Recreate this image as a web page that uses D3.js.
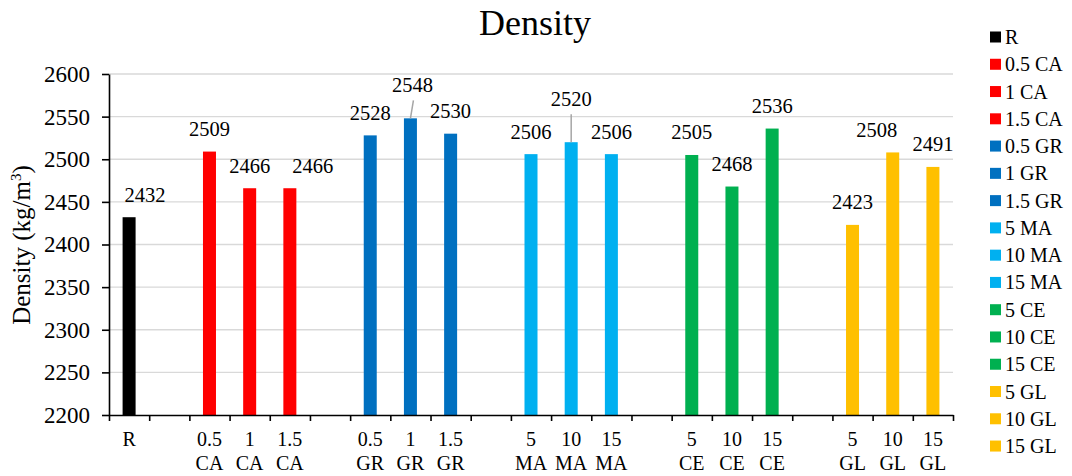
<!DOCTYPE html>
<html>
<head>
<meta charset="utf-8">
<script src="https://cdn.jsdelivr.net/npm/d3@7"></script>
<style>
  html, body { margin: 0; padding: 0; background: #fff; }
  svg text { font-family: "Liberation Serif", "Times New Roman", serif; fill: #000; }
</style>
</head>
<body>
<svg id="chart" width="1072" height="476"></svg>
<script>
// Mix labels, their family and measured densities (kg/m3)
const categories = ["R", "0.5 CA", "1 CA", "1.5 CA", "0.5 GR", "1 GR", "1.5 GR",
  "5 MA", "10 MA", "15 MA", "5 CE", "10 CE", "15 CE", "5 GL", "10 GL", "15 GL"];
const families = ["R", "CA", "CA", "CA", "GR", "GR", "GR",
  "MA", "MA", "MA", "CE", "CE", "CE", "GL", "GL", "GL"];
const densities = [2432, 2509, 2466, 2466, 2528, 2548, 2530,
  2506, 2520, 2506, 2505, 2468, 2536, 2423, 2508, 2491];
const yTicks = [2200, 2250, 2300, 2350, 2400, 2450, 2500, 2550, 2600];
const familyColors = { R: "#000000", CA: "#ff0000", GR: "#0070c0", MA: "#00b0f0", CE: "#00b050", GL: "#ffc000" };

// Hand-placed label nudges (dx, extra lift, leader line)
const labelPlacement = {
  "R": { dx: 16 },
  "1.5 CA": { dx: 23 },
  "1 GR": { dx: 2, lift: 26, leader: true },
  "10 MA": { dx: 0, lift: 36, leader: true },
  "10 GL": { dx: -16 }
};

const svg = d3.select("#chart");
const plotLeft = 109, plotRight = 953, plotTop = 74, plotBottom = 415;

// One slot per mix, with an empty slot between families
const slots = [];
categories.forEach((c, i) => {
  if (i > 0 && families[i] !== families[i - 1]) slots.push("gap" + i);
  slots.push(c);
});

const x = d3.scaleBand().domain(slots).range([plotLeft, plotRight]).paddingInner(0).paddingOuter(0);
const xIdx = d3.scaleLinear().domain([0, slots.length]).range([plotLeft, plotRight]);
const y = d3.scaleLinear().domain([2200, 2600]).range([plotBottom, plotTop]);
const barW = 13;

// Title
svg.append("text").attr("x", 535).attr("y", 35).attr("text-anchor", "middle")
  .style("font-size", "36px").text("Density");

// Gridlines
svg.append("g").selectAll("line").data(yTicks.slice(1)).join("line")
  .attr("x1", plotLeft).attr("x2", plotRight)
  .attr("y1", d => y(d)).attr("y2", d => y(d))
  .attr("stroke", "#d9d9d9").attr("stroke-width", 1.3);

// Bars
svg.append("g").selectAll("rect").data(categories).join("rect")
  .attr("x", d => x(d) + x.bandwidth() / 2 - barW / 2)
  .attr("width", barW)
  .attr("y", (d, i) => y(densities[i]))
  .attr("height", (d, i) => y(2200) - y(densities[i]))
  .attr("fill", (d, i) => familyColors[families[i]]);

// Y axis
const yAxis = svg.append("g").attr("transform", `translate(${plotLeft},0)`)
  .call(d3.axisLeft(y).tickValues(yTicks).tickSize(7).tickSizeOuter(0).tickPadding(12).tickFormat(d3.format("d")))
  .attr("font-family", null).attr("font-size", null);
yAxis.select(".domain").attr("stroke", "#000").attr("stroke-width", 1.6);
yAxis.selectAll(".tick line").attr("stroke", "#000").attr("stroke-width", 1.6);
yAxis.selectAll(".tick text").style("font-size", "23px");

// X axis with ticks on slot boundaries
const xAxis = svg.append("g").attr("transform", `translate(0,${plotBottom})`)
  .call(d3.axisBottom(xIdx).tickValues(d3.range(slots.length + 1)).tickSize(6).tickSizeOuter(0).tickFormat(""));
xAxis.select(".domain").attr("stroke", "#000").attr("stroke-width", 1.6);
xAxis.selectAll(".tick line").attr("stroke", "#000").attr("stroke-width", 1.6);

// Two-line category labels
const xl = svg.append("g").selectAll("text").data(categories).join("text")
  .attr("text-anchor", "middle").style("font-size", "20px")
  .attr("transform", d => `translate(${x(d) + x.bandwidth() / 2},0)`);
xl.each(function (d) {
  const parts = d.split(" ");
  d3.select(this).selectAll("tspan").data(parts).join("tspan")
    .attr("x", 0).attr("y", (p, j) => 446 + j * 24).text(p => p);
});

// Value labels and leader lines
categories.forEach((c, i) => {
  const p = labelPlacement[c] || { dx: 0 };
  const cx = x(c) + x.bandwidth() / 2;
  const topY = y(densities[i]);
  const base = topY - (p.lift || 15.5);
  if (p.leader) {
    svg.append("line")
      .attr("x1", cx).attr("y1", topY)
      .attr("x2", cx + p.dx + (p.dx ? 1 : 0)).attr("y2", base + 8)
      .attr("stroke", "#a6a6a6").attr("stroke-width", 1.5);
  }
  svg.append("text").attr("x", cx + p.dx).attr("y", base)
    .attr("text-anchor", "middle").style("font-size", "20.5px")
    .text(densities[i]);
});

// Y axis title
svg.append("text")
  .attr("transform", "translate(30,245) rotate(-90)")
  .attr("text-anchor", "middle").style("font-size", "25px")
  .call(t => {
    t.append("tspan").text("Density (kg/m");
    t.append("tspan").attr("dy", -9).style("font-size", "15px").text("3");
    t.append("tspan").attr("dy", 9).text(")");
  });

// Legend
const lg = svg.append("g").selectAll("g").data(categories).join("g")
  .attr("transform", (d, i) => `translate(990,${37 + i * 27.27})`);
lg.append("rect").attr("x", 0).attr("y", -5.5).attr("width", 11).attr("height", 11)
  .attr("fill", (d, i) => familyColors[families[i]]);
lg.append("text").attr("x", 15).attr("y", 7).style("font-size", "20px").text(d => d);
</script>
</body>
</html>
